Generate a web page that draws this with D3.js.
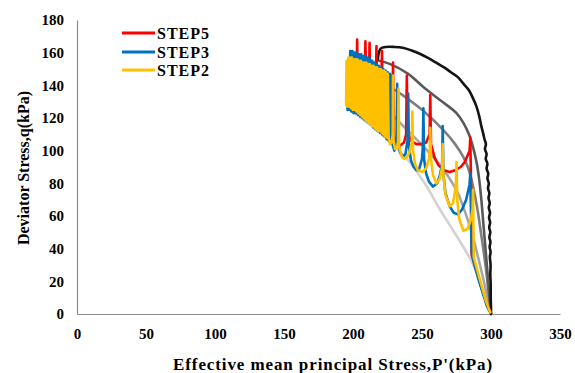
<!DOCTYPE html>
<html>
<head>
<meta charset="utf-8">
<script src="https://cdn.jsdelivr.net/npm/d3@7"></script>
<style>
  html, body { margin: 0; padding: 0; background: #fff; }
  svg text { font-family: "Liberation Serif", "Times New Roman", serif; font-weight: bold; fill: #000; }
</style>
</head>
<body>
<svg id="chart" width="575" height="373"></svg>
<script>
// ---- Data (p', q) ----
const xTicks = [0, 50, 100, 150, 200, 250, 300, 350];
const yTicks = [0, 20, 40, 60, 80, 100, 120, 140, 160, 180];
const legendLabels = ["STEP5", "STEP3", "STEP2"];

const curveBlack = [[218,156],[218.5,159],[220,162.5],[224,163.5],[230,163.5],[236,163],[242,161.5],[248,159.5],[254,157],[260,154],[266,151],[271,148],[276,145],[280,141],[284,137],[287,132],[289.5,127],[291.5,121],[293,115],[294.5,110],[295.3,107],[296.3,104],[295.6,101],[296.8,98],[296.2,95],[297.4,92],[296.8,89],[298,86],[297.4,83],[298.4,80],[297.8,77],[298.8,74],[298.2,71],[299.1,68],[298.4,65],[299.3,62],[298.6,59],[299.4,56],[298.7,53],[299.5,50],[298.8,47],[299.6,44],[299,41],[299.7,38],[299.2,35],[299.7,30],[299.5,24],[299.8,18],[299.8,10],[300,4],[300,0]];
const curveDarkGray = [[219,155],[227,153],[240,147],[251,139],[263,131],[275,123],[280,117],[284,110],[287,102],[289.5,93],[291.5,82],[293,70],[294.5,55],[296,40],[297.5,25],[299,10],[300,0]];
const curveGray = [[210,150],[222,142],[236,134],[250,125],[265,113],[274,104],[280,96],[284,88],[287,78],[290,65],[293,48],[296,30],[298,15],[300,0]];
const curveMidGray = [[205,140],[222,127],[240,112],[255,99],[264,90],[270,83],[276,74],[281,63],[286,50],[290,37],[294,23],[297,12],[300,0]];
const curveLightGray = [[198,125],[212,116],[226,106],[240,94],[252,80],[263,64],[272,52],[280,41],[286,32],[291,22],[295,13],[298,5],[300,0]];

const step5 = [[197,130],[199,146],[200,134],[202,142],[202.5,136],[203,168],[203.5,140],[205.5,139],[208.5,142],[209,167],[209.5,141],[211.5,140],[212,166],[212.5,139],[214.5,137],[216.5,139],[217,164],[217.5,136],[219,133],[220.5,135],[221,161],[221.5,128],[223,118],[225,113],[227,114],[228.5,118],[229,154],[229.5,110],[231,105],[234,103],[237,105],[238.5,110],[239,146],[239.5,112],[242,106],[246,104],[250,104],[253,105],[255.5,110],[256,134],[256.5,104],[259,96],[262,91],[266,88],[270,87],[274,88],[278,90],[281,93],[284.5,100],[285,108],[285.5,80],[285.8,60],[286,36],[289,28],[292,19],[295,11],[297.5,5],[299.5,1]];

const step3 = [[196,125],[196.5,152],[197.2,125],[198,161],[198.8,124],[199.6,161],[200.4,123],[201.2,160],[202,123],[202.8,160],[203.6,122],[204.4,159],[205.2,121],[206,159],[206.8,120],[207.6,158],[208.4,119],[209.2,158],[210,118],[210.8,157],[211.6,117],[212.4,156],[213.2,116],[214,155],[214.8,114],[215.6,154],[216.4,113],[217.2,153],[218,112],[218.8,152],[219.6,111],[220.4,151],[221.2,110],[222,150],[222.8,109],[223.6,149],[224.4,107],[225.2,148],[226,106],[226.8,147],[227.6,105],[228.2,146],[228.6,104],[230,100],[231.5,105],[232,141],[232.5,108],[234,99],[236,96],[238,98],[239.5,106],[240,135],[240.5,103],[242,94],[244,90],[246,88],[248,89],[250,95],[250.6,102],[251,126],[251.5,95],[253,86],[255,81],[258,78],[261,80],[263,85],[264.6,92],[265,115],[265.5,86],[267,74],[270,66],[273,62],[276,61],[279,64],[282,70],[284.4,79],[285,86],[285.5,62],[286,38],[288,30],[291,21],[294,13],[297,5],[299,1.5]];

const step2 = [[195,128],[195.3,155],[196,127],[196.6,157],[197.3,127],[197.9,157],[198.6,126],[199.2,157],[199.9,125],[200.5,156],[201.2,125],[201.8,156],[202.5,124],[203.1,156],[203.8,123],[204.4,155],[205.1,122],[205.7,155],[206.4,121],[207,154],[207.7,120],[208.3,154],[209,119],[209.6,154],[210.3,118],[210.9,153],[211.6,117],[212.2,153],[212.9,116],[213.5,152],[214.2,115],[214.8,152],[215.5,114],[216.1,151],[216.8,113],[217.4,151],[218.1,112],[218.7,150],[219.4,112],[220,150],[220.7,111],[221.3,149],[222,110],[222.6,149],[223.3,109],[223.9,148],[224.6,108],[225.2,147],[225.8,108],[226.8,104],[228,105],[228.8,110],[229,146],[229.4,106],[230.5,101],[232,102],[232.7,106],[233,138],[233.4,103],[235,97],[237,95],[239,96],[241,99],[242.6,105],[243,124],[243.5,100],[245,92],[247,88],[250,87],[253,89],[255,95],[255.7,101],[256,114],[256.5,95],[258,85],[260.5,80],[263,83],[264.6,90],[265,104],[265.5,85],[267,73],[270,66],[272.5,68],[274.5,78],[275,93],[275.5,70],[277,58],[280,51],[283,52],[285.5,58],[286.6,64],[287,76],[287.3,50],[287.5,35],[290,27],[293,18],[296,9],[298.5,3],[299.5,1]];

// ---- Chart ----
const svg = d3.select("#chart");
const x = d3.scaleLinear().domain([0, 350]).range([77, 560]);
const y = d3.scaleLinear().domain([0, 180]).range([314, 20]);

// axes
const xAxis = d3.axisBottom(x).tickValues(xTicks).tickSize(0).tickPadding(14);
const yAxis = d3.axisLeft(y).tickValues(yTicks).tickSize(0).tickPadding(13);

const gx = svg.append("g").attr("transform", `translate(0,${y(0)})`).call(xAxis);
const gy = svg.append("g").attr("transform", `translate(${x(0)},0)`).call(yAxis);
[gx, gy].forEach(g => {
  g.select(".domain").attr("stroke", "#8c8c8c").attr("stroke-width", 1.2);
  g.selectAll("text").style("font-size", "15px").style("font-family", '"Liberation Serif", serif').style("font-weight", "bold").attr("fill", "#000");
});

const line = d3.line().x(d => x(d[0])).y(d => y(d[1]));

const grays = [
  [curveLightGray, "#d3d3d3"],
  [curveMidGray, "#a6a6a6"],
  [curveGray, "#7f7f7f"],
  [curveDarkGray, "#595959"],
  [curveBlack, "#141414"]
];
grays.forEach(([data, color]) => {
  svg.append("path").datum(data).attr("d", line.curve(d3.curveCatmullRom.alpha(0.5)))
    .attr("fill", "none").attr("stroke", color).attr("stroke-width", 2.6)
    .attr("stroke-linejoin", "round").attr("stroke-linecap", "round");
});

const series = [
  [step5, "#FF0000"],
  [step3, "#0070C0"],
  [step2, "#FFC000"]
];
series.forEach(([data, color]) => {
  svg.append("path").datum(data).attr("d", line.curve(d3.curveLinear))
    .attr("fill", "none").attr("stroke", color).attr("stroke-width", 2.6)
    .attr("stroke-linejoin", "round").attr("stroke-linecap", "round");
});

// legend
const legendColors = ["#FF0000", "#0070C0", "#FFC000"];
const legendY = [33, 52, 70];
legendLabels.forEach((lab, i) => {
  svg.append("line").attr("x1", 122).attr("x2", 155).attr("y1", legendY[i]).attr("y2", legendY[i])
    .attr("stroke", legendColors[i]).attr("stroke-width", 3);
  svg.append("text").attr("x", 157).attr("y", legendY[i]).attr("dy", "0.35em")
    .style("font-size", "16px").style("letter-spacing", "1px").text(lab);
});

// axis titles
svg.append("text").attr("x", 333).attr("y", 370).attr("text-anchor", "middle")
  .style("font-size", "17px").style("letter-spacing", "0.9px").text("Effective mean principal Stress,P'(kPa)");
svg.append("text").attr("transform", "translate(29,168) rotate(-90)").attr("text-anchor", "middle")
  .style("font-size", "16px").text("Deviator Stress,q(kPa)");
</script>
</body>
</html>
